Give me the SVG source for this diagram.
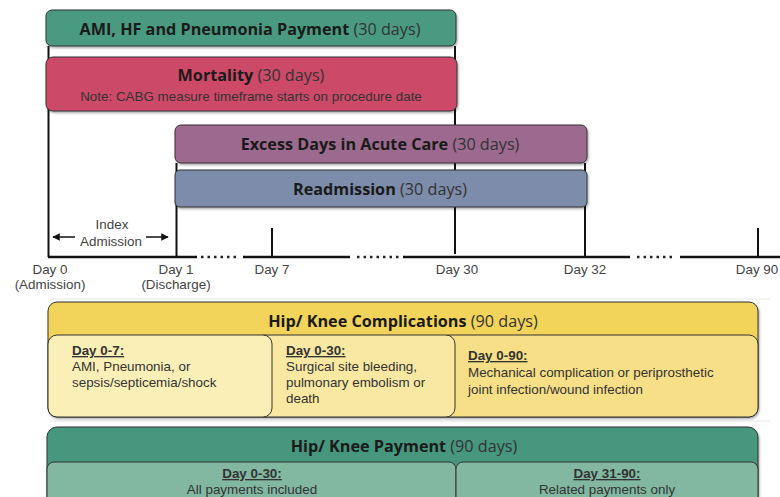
<svg xmlns="http://www.w3.org/2000/svg" width="780" height="497" viewBox="0 0 780 497">
<defs>
<filter id="sh" x="-5%" y="-20%" width="110%" height="150%">
<feDropShadow dx="1" dy="1.5" stdDeviation="1.2" flood-color="#000" flood-opacity="0.35"/>
</filter>
<marker id="ah" viewBox="0 0 10 10" refX="9" refY="5" markerWidth="5" markerHeight="5" orient="auto-start-reverse">
<path d="M0,0 L10,5 L0,10 z" fill="#111"/>
</marker>
</defs>
<style>
text{font-family:"Open Sans","Liberation Sans",sans-serif;fill:#1a1a1a}
.t{font-size:16.2px;text-anchor:middle}
.b{font-weight:bold}
.n{font-weight:normal;fill:#333}
.s{font-family:"Liberation Sans",Arial,sans-serif;font-size:13.4px;fill:#333}
.ax{font-family:"Liberation Sans",Arial,sans-serif;font-size:13.4px;fill:#444;text-anchor:middle}
.box{stroke:#333;stroke-width:1}
.ln{stroke:#111;stroke-width:2;fill:none}
.tl{stroke:#111;stroke-width:2.5;fill:none}
.dot{stroke:#222;stroke-width:2.5;stroke-dasharray:2.5 4;fill:none}
.u{text-decoration:underline;font-weight:bold}
</style>

<g id="connectors">
<line class="ln" x1="48.5" y1="46" x2="48.5" y2="257"/>
<line class="ln" x1="455" y1="46" x2="455" y2="254"/>
<line class="ln" x1="176.5" y1="163" x2="176.5" y2="257"/>
<line class="ln" x1="585" y1="163" x2="585" y2="257"/>
<line class="ln" x1="272" y1="228" x2="272" y2="257"/>
<line class="ln" x1="758" y1="228" x2="758" y2="257"/>
<line class="tl" x1="48" y1="257" x2="197" y2="257"/>
<line class="dot" x1="201" y1="257" x2="240" y2="257"/>
<line class="tl" x1="243" y1="257" x2="350" y2="257"/>
<line class="dot" x1="357" y1="257" x2="400" y2="257"/>
<line class="tl" x1="403" y1="257" x2="630" y2="257"/>
<line class="dot" x1="637" y1="257" x2="676" y2="257"/>
<line class="tl" x1="680" y1="257" x2="780" y2="257"/>
<line stroke="#111" stroke-width="1.5" x1="75" y1="237" x2="53" y2="237" marker-end="url(#ah)"/>
<line stroke="#111" stroke-width="1.5" x1="146" y1="237" x2="168" y2="237" marker-end="url(#ah)"/>
<line stroke="#e8e8e8" stroke-width="1" x1="50" y1="299" x2="770" y2="299"/>
<line stroke="#e8e8e8" stroke-width="1" x1="50" y1="421" x2="770" y2="421"/>
</g>

<g id="ami-payment">
<rect class="box" x="46" y="10" width="410" height="36" rx="6" fill="#4a9a80" filter="url(#sh)"/>
<text class="t" x="250" y="35"><tspan class="b">AMI, HF and Pneumonia Payment</tspan><tspan class="n"> (30 days)</tspan></text>
</g>

<g id="mortality">
<rect class="box" x="46" y="57" width="411" height="54" rx="7" fill="#cd4868" filter="url(#sh)"/>
<text class="t" x="251" y="81"><tspan class="b">Mortality</tspan><tspan class="n"> (30 days)</tspan></text>
<text class="s" x="251" y="101" text-anchor="middle">Note: CABG measure timeframe starts on procedure date</text>
</g>

<g id="excess-days">
<rect class="box" x="175" y="125" width="412" height="38" rx="6" fill="#9b6b8e" filter="url(#sh)"/>
<text class="t" x="380" y="150"><tspan class="b">Excess Days in Acute Care</tspan><tspan class="n"> (30 days)</tspan></text>
</g>

<g id="readmission">
<rect class="box" x="175" y="170" width="412" height="37" rx="5" fill="#7b8caa" filter="url(#sh)"/>
<text class="t" x="380" y="195"><tspan class="b">Readmission</tspan><tspan class="n"> (30 days)</tspan></text>
</g>

<g id="index-admission">
<text class="ax" x="112" y="229">Index</text>
<text class="ax" x="111" y="246">Admission</text>
</g>

<g id="axis-labels">
<text class="ax" x="50" y="274">Day 0</text>
<text class="ax" x="50" y="289">(Admission)</text>
<text class="ax" x="176" y="274">Day 1</text>
<text class="ax" x="176" y="289">(Discharge)</text>
<text class="ax" x="272" y="274">Day 7</text>
<text class="ax" x="457" y="274">Day 30</text>
<text class="ax" x="585" y="274">Day 32</text>
<text class="ax" x="757" y="274">Day 90</text>
</g>

<g id="hip-knee-complications">
<rect class="box" x="48" y="302" width="710" height="115" rx="9" fill="#f3d45a" filter="url(#sh)"/>
<text class="t" x="403" y="327"><tspan class="b">Hip/ Knee Complications</tspan><tspan class="n"> (90 days)</tspan></text>
<rect class="box" x="440" y="335" width="318" height="82" rx="9" fill="#f6df86"/>
<rect class="box" x="255" y="335" width="200" height="82" rx="9" fill="#f8e8a2"/>
<rect class="box" x="48" y="335" width="224" height="82" rx="9" fill="#fbefb8"/>
<text class="s" x="72" y="355"><tspan class="u">Day 0-7:</tspan></text>
<text class="s" x="72" y="371">AMI, Pneumonia, or</text>
<text class="s" x="72" y="387">sepsis/septicemia/shock</text>
<text class="s" x="286" y="355"><tspan class="u">Day 0-30:</tspan></text>
<text class="s" x="286" y="371">Surgical site bleeding,</text>
<text class="s" x="286" y="387">pulmonary embolism or</text>
<text class="s" x="286" y="403">death</text>
<text class="s" x="468" y="360"><tspan class="u">Day 0-90:</tspan></text>
<text class="s" x="468" y="377">Mechanical complication or periprosthetic</text>
<text class="s" x="468" y="394">joint infection/wound infection</text>
</g>

<g id="hip-knee-payment">
<rect class="box" x="47" y="427" width="711" height="90" rx="10" fill="#47967e" filter="url(#sh)"/>
<text class="t" x="404" y="452"><tspan class="b">Hip/ Knee Payment</tspan><tspan class="n"> (90 days)</tspan></text>
<rect class="box" x="47" y="462" width="409" height="50" rx="7" fill="#82b8a2"/>
<rect class="box" x="456" y="462" width="302" height="50" rx="7" fill="#82b8a2"/>
<text class="s" x="252" y="478" text-anchor="middle"><tspan class="u">Day 0-30:</tspan></text>
<text class="s" x="252" y="494" text-anchor="middle">All payments included</text>
<text class="s" x="607" y="478" text-anchor="middle"><tspan class="u">Day 31-90:</tspan></text>
<text class="s" x="607" y="494" text-anchor="middle">Related payments only</text>
</g>
</svg>
